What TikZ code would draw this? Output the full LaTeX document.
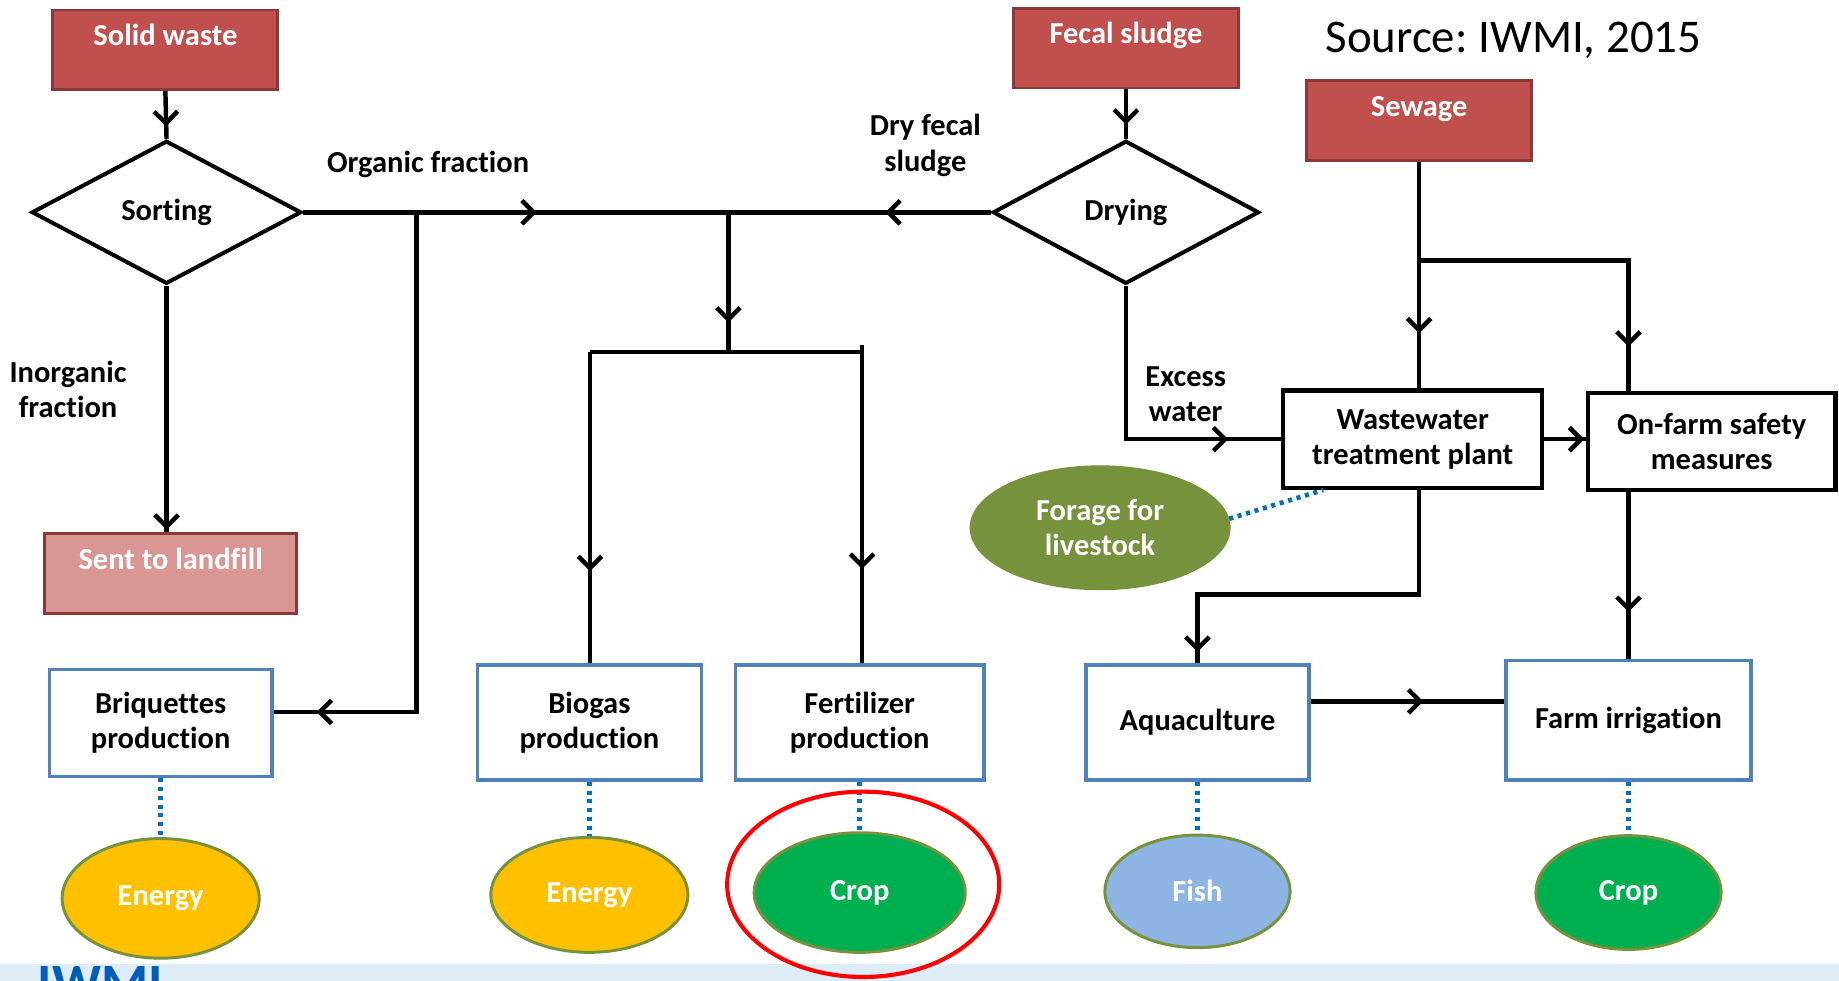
\documentclass[tikz,border=0pt]{standalone}
\usepackage{fontspec}
\setmainfont{Carlito}[Ligatures=NoCommon]
\usepackage{tikz}
\usetikzlibrary{shapes.geometric,arrows.meta,decorations.markings}
\frenchspacing

\definecolor{srcred}{RGB}{192,80,77}
\definecolor{srcedge}{RGB}{140,56,54}
\definecolor{dumppink}{RGB}{217,150,148}
\definecolor{procblue}{RGB}{79,129,189}
\definecolor{dotblue}{RGB}{0,112,192}
\definecolor{olivegreen}{RGB}{118,146,60}
\definecolor{energyyellow}{RGB}{255,192,0}
\definecolor{cropgreen}{RGB}{0,176,80}
\definecolor{fishblue}{RGB}{141,180,226}
\definecolor{bandblue}{RGB}{222,236,247}
\definecolor{logoblue}{RGB}{0,94,184}

\tikzset{
  lbl/.style={font=\fontsize{26}{30}\selectfont\bfseries, align=center, inner sep=0pt},
  srcbox/.style={lbl, draw=srcedge, line width=2.5pt, fill=srcred, text=white,
    minimum width=192pt, minimum height=68pt, text height=18pt, text depth=25pt},
  decision/.style={lbl, draw, line width=3.4pt, diamond, aspect=1.9,
    minimum width=230pt, minimum height=122pt},
  procbox/.style={lbl, draw=procblue, line width=3pt, fill=white, minimum height=98pt},
  plantbox/.style={lbl, draw, line width=3.6pt, fill=white, minimum height=83pt},
  outcome/.style={lbl, ellipse, draw=olivegreen, line width=2.5pt, text=white},
  flow/.style={line width=3.8pt},
  midarr/.style={postaction={decorate}, decoration={markings,
    mark=at position #1 with {\arrow{Straight Barb[length=10pt,width=20pt]}}}},
  link/.style={draw=dotblue, line width=4pt, dash pattern=on 3.5pt off 4pt}
}

\begin{document}
\begin{tikzpicture}[x=1pt,y=1pt,yscale=-1,xscale=1]
\useasboundingbox (0,0) rectangle (1568,836);
\fill[white] (0,0) rectangle (1568,836);

% Bottom band with logo
\fill[bandblue] (0,822) rectangle (1568,836);
\begin{scope}
\clip (0,822) rectangle (1568,836);
\node[anchor=north west, inner sep=0pt, text=logoblue, font=\fontsize{46}{46}\selectfont\bfseries] (logo) at (32,824) {IWMI};
\end{scope}

% Source
\node[anchor=base west, inner sep=0pt, font=\fontsize{40}{46}\selectfont] (source) at (1130,45) {Source: IWMI, 2015};

% Inputs
\node[srcbox] (solid) at (141,42.5) {Solid waste};
\node[srcbox] (fecal) at (960,41) {Fecal sludge};
\node[srcbox] (sewage) at (1210,103) {Sewage};
\node[srcbox, fill=dumppink, minimum width=215pt] (landfill) at (145.5,489) {Sent to landfill};

% Decisions
\node[decision] (sorting) at (142,181) {Sorting};
\node[decision, minimum width=227pt] (drying) at (960,181) {Drying};

% Treatment
\node[plantbox, minimum width=221pt] (wwtp) at (1204.5,374.5) {Wastewater\\treatment plant};
\node[plantbox, minimum width=211pt] (onfarm) at (1459.5,376.5) {On-farm safety\\measures};

% Processes
\node[procbox, minimum width=190pt, minimum height=91pt] (briq) at (137,616.5) {Briquettes\\production};
\node[procbox, minimum width=191pt] (biogas) at (502.5,616) {Biogas\\production};
\node[procbox, minimum width=212pt] (fert) at (733,616) {Fertilizer\\production};
\node[procbox, minimum width=190pt] (aqua) at (1021,616) {Aquaculture};
\node[procbox, minimum width=209pt, minimum height=102pt] (farm) at (1388.5,614) {Farm irrigation};

% Outcomes
\node[outcome, fill=energyyellow, minimum width=168pt, minimum height=102pt] (energyA) at (137,766) {Energy};
\node[outcome, fill=energyyellow, minimum width=168pt, minimum height=98pt] (energyB) at (502.5,763) {Energy};
\node[outcome, fill=cropgreen, minimum width=180pt, minimum height=102pt] (cropA) at (733,761) {Crop};
\node[outcome, fill=fishblue, minimum width=158pt, minimum height=96pt] (fish) at (1021,760) {Fish};
\node[outcome, fill=cropgreen, minimum width=158pt, minimum height=97pt] (cropB) at (1388.5,761) {Crop};
\node[outcome, fill=olivegreen, draw=olivegreen, minimum width=220pt, minimum height=104pt] (forage) at (938,450) {Forage for\\livestock};

% Flow labels
\node[lbl] (orglbl) at (365,140) {Organic fraction};
\node[lbl] (drylbl) at (789,124) {Dry fecal\\sludge};
\node[lbl] (inorglbl) at (58,332) {Inorganic\\fraction};
\node[lbl] (excesslbl) at (1011,336) {Excess\\water};

% Junctions
\coordinate (jb) at (355,181);
\coordinate (cb) at (355,607);
\coordinate (j1) at (621,181);
\coordinate (j2) at (621,300);
\coordinate (jl) at (503,300);
\coordinate (jr) at (735,300);
\coordinate (js) at (1210,222);
\coordinate (ja) at (1021,507);

% Connectors
\draw[flow, midarr=30pt] (solid.south) -- (sorting.north);
\draw[flow, midarr=199pt] (sorting.east) -- (j1);
\draw[flow, midarr=90pt] (drying.west) -- (j1);
\draw[flow, midarr=511pt] (jb) -- (cb) -- (cb -| briq.east);
\draw[flow, midarr=208pt] (sorting.south) -- (sorting.south |- landfill.north);
\draw[flow, midarr=94pt] (j1) -- (j2);
\draw[flow] (jl) -- (jr);
\draw[flow, midarr=187pt] (jl) -- (jl |- biogas.north);
\draw[flow, midarr=191pt] ([yshift=-6pt]jr) -- (jr |- fert.north);
\draw[flow, midarr=30pt] (fecal.south) -- (drying.north);
\draw[flow, midarr=218pt] (drying.south) |- (wwtp.west);
\draw[flow, midarr=146pt] (sewage.south) -- (sewage.south |- wwtp.north);
\draw[flow, midarr=252pt] (js) -| (farm.north |- onfarm.north);
\draw[flow, midarr=34pt] (wwtp.east) -- (wwtp.east -| onfarm.west);
\draw[flow, midarr=327pt] (sewage.south |- wwtp.south) |- (ja) -- (aqua.north);
\draw[flow, midarr=102pt] (farm.north |- onfarm.south) -- (farm.north);
\draw[flow, midarr=96pt] ([yshift=-18pt]aqua.east) -- ([yshift=-18pt]aqua.east -| farm.west);

% Dotted links
\draw[link] (briq.south) -- (energyA.north);
\draw[link] (biogas.south) -- (energyB.north);
\draw[link] (fert.south) -- (cropA.north);
\draw[link] (aqua.south) -- (fish.north);
\draw[link] (farm.south) -- (cropB.north);
\draw[link] (forage.4) -- ([xshift=36pt]wwtp.south west);

% Highlight
\node[ellipse, draw=red, line width=3.5pt, minimum width=232pt, minimum height=158pt] (ring) at (736,754) {};

\end{tikzpicture}
\end{document}
